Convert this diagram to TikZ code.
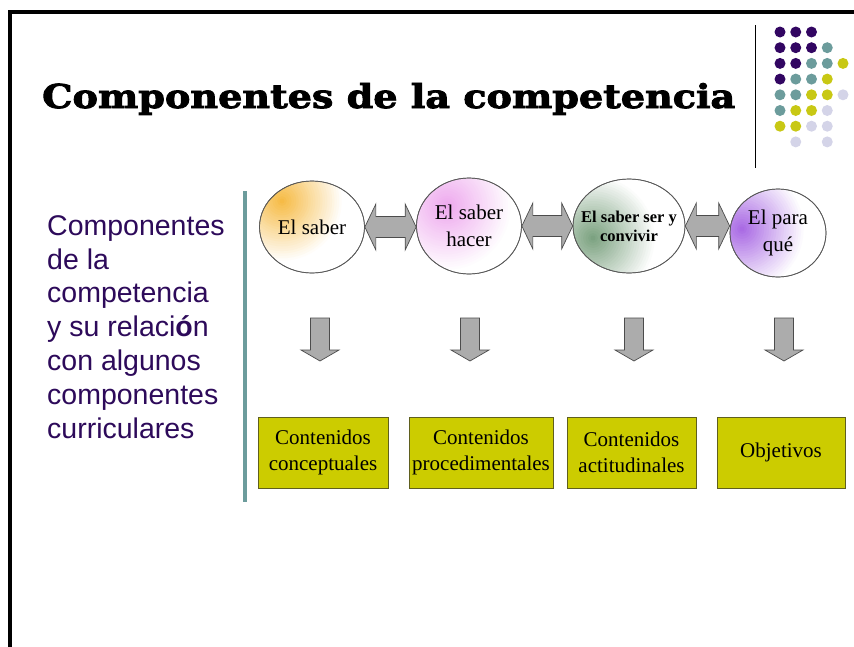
\documentclass[tikz,border=0pt]{standalone}
\usepackage{fontspec}
\setmainfont{Liberation Serif}
\newfontfamily\sidefont{Liberation Sans}
\newfontfamily\titlefont{DejaVu Serif}[BoldFeatures={FakeBold=2.5}]
\usetikzlibrary{shapes.geometric,calc}
\definecolor{dp}{RGB}{50,6,98}
\definecolor{tl}{RGB}{108,156,156}
\definecolor{yl}{RGB}{200,200,20}
\definecolor{lv}{RGB}{212,212,232}
\definecolor{sidetext}{RGB}{45,10,90}
\definecolor{boxyellow}{RGB}{204,204,0}
\definecolor{boxedge}{RGB}{95,95,30}
\definecolor{arrowgray}{RGB}{172,172,172}
\definecolor{cOrange}{RGB}{245,180,50}
\definecolor{cPink}{RGB}{236,160,236}
\definecolor{cGreen}{RGB}{110,152,115}
\definecolor{cPurple}{RGB}{160,90,225}
\newcommand\biarrow[2]{%
  \draw[blockarrow] (#1) -- ++(11,-23) -- ++(0,12.5) -- ($(#2)+(-11,-10.5)$) -- ++(0,-12.5) -- (#2)
    -- ++(-11,23) -- ++(0,-12.5) -- ($(#1)+(11,10.5)$) -- ++(0,12.5) -- cycle;}
\newcommand\downarr[1]{%
  \draw[blockarrow] (#1) ++(-9.5,0) -- ++(19,0) -- ++(0,32) -- ++(9.5,0) -- ++(-19,11)
    -- ++(-19,-11) -- ++(9.5,0) -- cycle;}
% stepwise radial fade: colour, xshift, yshift, radius
\newcommand\radfade[4]{%
  \foreach \k [evaluate=\k as \p using int(3.6*\k)] in {0,...,25}
    \fill[#1!\p!white] ([xshift=#2,yshift=#3]path picture bounding box.center)
      circle [radius={#4*(1-\k/26)}];}
\begin{document}
\begin{tikzpicture}[x=1pt,y=-1pt,
  circ/.style={ellipse, draw=black!65, line width=0.7pt, fill=white, inner sep=0pt},
  circtext/.style={inner sep=0pt, align=center, font=\fontsize{21}{27}\selectfont},
  ybox/.style={rectangle, draw=boxedge, line width=0.8pt, fill=boxyellow, inner sep=0pt, align=center,
    minimum height=71pt, font=\fontsize{21}{26}\selectfont},
  blockarrow/.style={fill=arrowgray, draw=black!70, line width=0.7pt, line join=miter},
  outline/.style={draw=black!65, line width=0.7pt},
  dot/.style={circle, inner sep=0pt, minimum size=11pt}]
\useasboundingbox (0,0) rectangle (854,646);
\fill[white] (0,0) rectangle (854,646);
% frame
\draw[line width=4pt, line join=miter] (9.5,660) -- (9.5,12) -- (860,12);
% title
\node[anchor=base west, inner sep=0pt] (title) at (42,108)
  {\resizebox{693pt}{25pt}{\titlefont\bfseries Componentes de la competencia}};
\draw[line width=0.8pt] (755,25) -- (755,168);
% dots
\foreach \c/\r/\col in {0/0/dp,1/0/dp,2/0/dp,
  0/1/dp,1/1/dp,2/1/dp,3/1/tl,
  0/2/dp,1/2/dp,2/2/tl,3/2/tl,4/2/yl,
  0/3/dp,1/3/tl,2/3/tl,3/3/yl,
  0/4/tl,1/4/tl,2/4/yl,3/4/yl,4/4/lv,
  0/5/tl,1/5/yl,2/5/yl,3/5/lv,
  0/6/yl,1/6/yl,2/6/lv,3/6/lv,
  1/7/lv,3/7/lv}
  \node[dot, fill=\col] (d\c\r) at ({780+15.75*\c},{32+15.7*\r}) {};
% side text
\node[anchor=base west, inner sep=0pt, align=left, text=sidetext,
  font=\sidefont\fontsize{28.5}{33.8}\selectfont] (side) at (47,438)
  {Componentes\\de la\\competencia\\y su relaci{\bfseries ó}n\\con algunos\\componentes\\curriculares};
\draw[tl, line width=3.5pt] (245,191) -- (245,502);
% circles
\node[circ, minimum width=105pt, minimum height=92pt,
  path picture={\radfade{cOrange}{-30pt}{26pt}{62}}] (c1) at (312,227) {};
\node[circ, minimum width=105pt, minimum height=96pt,
  path picture={\radfade{cPink}{-22pt}{20pt}{66}}] (c2) at (469,226) {};
\node[circ, minimum width=112pt, minimum height=94pt,
  path picture={\radfade{cGreen}{-36pt}{-12pt}{64}}] (c3) at (629,226) {};
\node[circ, minimum width=96pt, minimum height=88pt,
  path picture={\radfade{cPurple}{-36pt}{4pt}{64}}] (c4) at (778,233) {};
% outlines over the fades
\draw[outline] (c1.center) ellipse [x radius=52.5, y radius=46];
\draw[outline] (c2.center) ellipse [x radius=52.5, y radius=48];
\draw[outline] (c3.center) ellipse [x radius=56, y radius=47];
\draw[outline] (c4.center) ellipse [x radius=48, y radius=44];
% circle texts
\node[circtext] (t1) at (c1) {El saber};
\node[circtext] (t2) at (c2) {El saber\\hacer};
\node[circtext, font=\bfseries\fontsize{16.5}{19}\selectfont] (t3) at (c3) {El saber ser y\\convivir};
\node[circtext] (t4) at (c4) {El para\\qué};
% double arrows
\coordinate (r1) at (c1.east -| c2.west);
\coordinate (l2) at (c2.east |- c3.west);
\coordinate (r3) at (c3.east -| c4.west);
\biarrow{c1.east}{r1}
\biarrow{l2}{c3.west}
\biarrow{c3.east}{r3}
% down arrows
\coordinate (a1) at (320,318);
\coordinate (a2) at (470,318);
\coordinate (a3) at (634,318);
\coordinate (a4) at (784,318);
\downarr{a1}
\downarr{a2}
\downarr{a3}
\downarr{a4}
% boxes
\node[ybox, minimum width=130pt] (b1) at (323,452.5) {Contenidos\\conceptuales};
\node[ybox, minimum width=144pt] (b2) at (481,452.5) {Contenidos\\procedimentales};
\node[ybox, minimum width=129pt] (b3) at (631.5,452.5) {Contenidos\\actitudinales};
\node[ybox, minimum width=128pt] (b4) at (781,452.5) {Objetivos};
\end{tikzpicture}
\end{document}
